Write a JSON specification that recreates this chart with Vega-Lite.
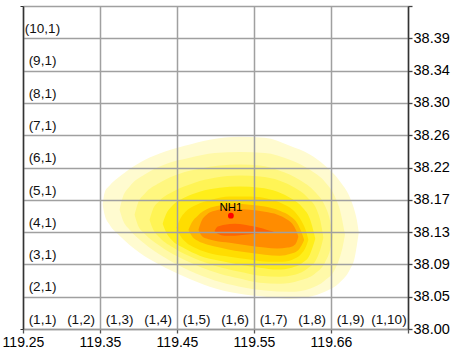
{
  "$schema": "https://vega.github.io/schema/vega-lite/v6.json",
  "width": 385,
  "height": 323,
  "autosize": {"type": "none"},
  "padding": {"left": 23, "top": 6, "right": 66, "bottom": 21},
  "background": "white",
  "config": {"view": {"stroke": null}, "font": "Liberation Sans"},
  "datasets": {
    "contours": [
      {"level":1,"c":2.07,"lo":3.85,"hi":3.87},{"level":1,"c":2.12,"lo":3.54,"hi":4.22},{"level":1,"c":2.25,"lo":3.23,"hi":4.44},{"level":1,"c":2.51,"lo":2.89,"hi":4.72},{"level":1,"c":3.03,"lo":2.36,"hi":5.15},{"level":1,"c":3.55,"lo":1.99,"hi":5.43},{"level":1,"c":4.20,"lo":1.62,"hi":5.67},{"level":1,"c":4.85,"lo":1.31,"hi":5.86},{"level":1,"c":5.63,"lo":1.09,"hi":5.95},{"level":1,"c":6.28,"lo":1.00,"hi":5.92},{"level":1,"c":6.93,"lo":0.94,"hi":5.67},{"level":1,"c":7.45,"lo":1.00,"hi":5.40},{"level":1,"c":7.84,"lo":1.15,"hi":5.06},{"level":1,"c":8.22,"lo":1.43,"hi":4.59},{"level":1,"c":8.49,"lo":1.84,"hi":4.07},{"level":1,"c":8.62,"lo":2.24,"hi":3.63},{"level":1,"c":8.67,"lo":2.58,"hi":3.38},{"level":1,"c":8.72,"lo":2.98,"hi":3.00},
      {"level":2,"c":2.51,"lo":3.69,"hi":3.71},{"level":2,"c":2.59,"lo":3.38,"hi":4.07},{"level":2,"c":2.77,"lo":3.07,"hi":4.41},{"level":2,"c":3.16,"lo":2.64,"hi":4.78},{"level":2,"c":3.68,"lo":2.21,"hi":5.09},{"level":2,"c":4.33,"lo":1.80,"hi":5.30},{"level":2,"c":4.98,"lo":1.50,"hi":5.45},{"level":2,"c":5.63,"lo":1.31,"hi":5.48},{"level":2,"c":6.28,"lo":1.19,"hi":5.45},{"level":2,"c":6.93,"lo":1.15,"hi":5.24},{"level":2,"c":7.45,"lo":1.25,"hi":4.93},{"level":2,"c":7.84,"lo":1.50,"hi":4.56},{"level":2,"c":8.10,"lo":1.84,"hi":4.10},{"level":2,"c":8.25,"lo":2.30,"hi":3.60},{"level":2,"c":8.30,"lo":2.52,"hi":3.32},{"level":2,"c":8.36,"lo":2.90,"hi":2.94},
      {"level":3,"c":2.90,"lo":3.53,"hi":3.55},{"level":3,"c":2.98,"lo":3.23,"hi":3.88},{"level":3,"c":3.16,"lo":2.95,"hi":4.19},{"level":3,"c":3.55,"lo":2.58,"hi":4.53},{"level":3,"c":4.07,"lo":2.21,"hi":4.81},{"level":3,"c":4.59,"lo":1.93,"hi":4.96},{"level":3,"c":5.11,"lo":1.71,"hi":5.06},{"level":3,"c":5.63,"lo":1.56,"hi":5.09},{"level":3,"c":6.15,"lo":1.43,"hi":5.06},{"level":3,"c":6.67,"lo":1.40,"hi":4.90},{"level":3,"c":7.18,"lo":1.50,"hi":4.62},{"level":3,"c":7.58,"lo":1.71,"hi":4.25},{"level":3,"c":7.84,"lo":2.05,"hi":3.82},{"level":3,"c":7.97,"lo":2.42,"hi":3.38},{"level":3,"c":8.05,"lo":2.85,"hi":2.87},
      {"level":4,"c":3.29,"lo":3.37,"hi":3.39},{"level":4,"c":3.37,"lo":3.11,"hi":3.69},{"level":4,"c":3.55,"lo":2.83,"hi":3.97},{"level":4,"c":3.94,"lo":2.49,"hi":4.28},{"level":4,"c":4.46,"lo":2.18,"hi":4.53},{"level":4,"c":4.98,"lo":1.96,"hi":4.68},{"level":4,"c":5.63,"lo":1.77,"hi":4.75},{"level":4,"c":6.15,"lo":1.65,"hi":4.72},{"level":4,"c":6.67,"lo":1.62,"hi":4.59},{"level":4,"c":7.06,"lo":1.68,"hi":4.37},{"level":4,"c":7.39,"lo":1.87,"hi":4.07},{"level":4,"c":7.63,"lo":2.18,"hi":3.69},{"level":4,"c":7.73,"lo":2.49,"hi":3.32},{"level":4,"c":7.80,"lo":2.82,"hi":2.84},
      {"level":5,"c":3.63,"lo":3.25,"hi":3.27},{"level":5,"c":3.71,"lo":3.01,"hi":3.54},{"level":5,"c":3.86,"lo":2.76,"hi":3.79},{"level":5,"c":4.20,"lo":2.49,"hi":4.07},{"level":5,"c":4.59,"lo":2.27,"hi":4.25},{"level":5,"c":5.11,"lo":2.11,"hi":4.37},{"level":5,"c":5.63,"lo":1.99,"hi":4.41},{"level":5,"c":6.15,"lo":1.90,"hi":4.37},{"level":5,"c":6.61,"lo":1.84,"hi":4.25},{"level":5,"c":6.98,"lo":1.90,"hi":4.03},{"level":5,"c":7.26,"lo":2.05,"hi":3.76},{"level":5,"c":7.45,"lo":2.30,"hi":3.41},{"level":5,"c":7.52,"lo":2.52,"hi":3.14},{"level":5,"c":7.59,"lo":2.79,"hi":2.81},
      {"level":6,"c":3.99,"lo":3.13,"hi":3.15},{"level":6,"c":4.07,"lo":2.92,"hi":3.38},{"level":6,"c":4.22,"lo":2.70,"hi":3.63},{"level":6,"c":4.51,"lo":2.49,"hi":3.85},{"level":6,"c":4.90,"lo":2.33,"hi":4.00},{"level":6,"c":5.37,"lo":2.24,"hi":4.10},{"level":6,"c":5.89,"lo":2.15,"hi":4.10},{"level":6,"c":6.36,"lo":2.08,"hi":4.03},{"level":6,"c":6.74,"lo":2.08,"hi":3.88},{"level":6,"c":7.06,"lo":2.18,"hi":3.63},{"level":6,"c":7.23,"lo":2.33,"hi":3.35},{"level":6,"c":7.34,"lo":2.52,"hi":3.07},{"level":6,"c":7.41,"lo":2.75,"hi":2.77},
      {"level":7,"c":4.30,"lo":3.06,"hi":3.08},{"level":7,"c":4.38,"lo":2.89,"hi":3.29},{"level":7,"c":4.54,"lo":2.73,"hi":3.51},{"level":7,"c":4.80,"lo":2.61,"hi":3.72},{"level":7,"c":5.11,"lo":2.52,"hi":3.82},{"level":7,"c":5.50,"lo":2.42,"hi":3.88},{"level":7,"c":5.89,"lo":2.36,"hi":3.85},{"level":7,"c":6.28,"lo":2.30,"hi":3.79},{"level":7,"c":6.67,"lo":2.27,"hi":3.66},{"level":7,"c":6.95,"lo":2.33,"hi":3.48},{"level":7,"c":7.13,"lo":2.42,"hi":3.26},{"level":7,"c":7.23,"lo":2.58,"hi":3.01},{"level":7,"c":7.30,"lo":2.75,"hi":2.77},
      {"level":8,"c":4.56,"lo":3.06,"hi":3.08},{"level":8,"c":4.64,"lo":2.89,"hi":3.35},{"level":8,"c":4.77,"lo":2.80,"hi":3.54},{"level":8,"c":4.98,"lo":2.73,"hi":3.66},{"level":8,"c":5.37,"lo":2.67,"hi":3.72},{"level":8,"c":5.89,"lo":2.58,"hi":3.69},{"level":8,"c":6.28,"lo":2.52,"hi":3.63},{"level":8,"c":6.61,"lo":2.49,"hi":3.54},{"level":8,"c":6.87,"lo":2.52,"hi":3.38},{"level":8,"c":7.03,"lo":2.58,"hi":3.20},{"level":8,"c":7.11,"lo":2.70,"hi":3.01},{"level":8,"c":7.15,"lo":2.85,"hi":2.87},
      {"level":9,"c":4.98,"lo":3.03,"hi":3.05},{"level":9,"c":5.06,"lo":2.95,"hi":3.17},{"level":9,"c":5.24,"lo":2.89,"hi":3.23},{"level":9,"c":5.50,"lo":2.89,"hi":3.26},{"level":9,"c":5.76,"lo":2.92,"hi":3.23},{"level":9,"c":6.02,"lo":2.95,"hi":3.17},{"level":9,"c":6.23,"lo":2.98,"hi":3.11},{"level":9,"c":6.41,"lo":3.00,"hi":3.04},{"level":9,"c":6.51,"lo":3.01,"hi":3.02}
    ],
    "cells": [
      {"i":1,"j":1,"label":"(1,1)"},{"i":2,"j":1,"label":"(2,1)"},{"i":3,"j":1,"label":"(3,1)"},{"i":4,"j":1,"label":"(4,1)"},{"i":5,"j":1,"label":"(5,1)"},{"i":6,"j":1,"label":"(6,1)"},{"i":7,"j":1,"label":"(7,1)"},{"i":8,"j":1,"label":"(8,1)"},{"i":9,"j":1,"label":"(9,1)"},{"i":10,"j":1,"label":"(10,1)"},
      {"i":1,"j":2,"label":"(1,2)"},{"i":1,"j":3,"label":"(1,3)"},{"i":1,"j":4,"label":"(1,4)"},{"i":1,"j":5,"label":"(1,5)"},{"i":1,"j":6,"label":"(1,6)"},{"i":1,"j":7,"label":"(1,7)"},{"i":1,"j":8,"label":"(1,8)"},{"i":1,"j":9,"label":"(1,9)"},{"i":1,"j":10,"label":"(1,10)"}
    ],
    "stations": [
      {"name":"NH1","c":5.40,"r":3.51}
    ]
  },
  "layer": [
    {
      "data": {"name": "contours"},
      "mark": {"type": "area", "interpolate": "monotone", "opacity": 1},
      "encoding": {
        "x": {"field": "c", "type": "quantitative", "scale": {"domain": [0, 10], "nice": false, "zero": false},
          "axis": {"orient": "bottom", "values": [0,1,2,3,4,5,6,7,8,9,10], "grid": true, "gridColor": "#a0a0a0", "gridWidth": 1.5, "gridOpacity": 1,
            "domain": true, "domainColor": "#999999", "domainWidth": 1.5, "ticks": true, "tickSize": 4, "tickColor": "#555555", "tickWidth": 1.3,
            "labelExpr": "datum.value==0?'119.25':datum.value==2?'119.35':datum.value==4?'119.45':datum.value==6?'119.55':datum.value==8?'119.66':''",
            "labelFontSize": 14, "labelColor": "#000000", "labelPadding": 2, "labelFont": "Liberation Sans", "labelFlush": false, "labelOverlap": false, "labelBound": false,
            "title": null, "zindex": 1}},
        "y": {"field": "lo", "type": "quantitative", "stack": null, "scale": {"domain": [0, 10], "nice": false, "zero": false},
          "axis": {"orient": "left", "values": [0, 10], "grid": false, "domain": true, "domainColor": "#333333", "domainWidth": 1.5, "ticks": true, "tickSize": 3, "tickColor": "#333333", "labels": false, "title": null, "zindex": 1}},
        "y2": {"field": "hi"},
        "color": {"field": "level", "type": "ordinal", "legend": null,
          "scale": {"domain": [1,2,3,4,5,6,7,8,9], "range": ["#fffbd0","#fff9a8","#fff77f","#fff455","#ffee1a","#ffdd00","#ffb600","#ff8c00","#ff6400"]}}
      }
    },
    {
      "data": {"name": "cells"},
      "mark": {"type": "text", "dx": -19, "dy": 23, "fontSize": 13.5, "font": "Liberation Sans", "color": "#111111", "baseline": "middle", "align": "center"},
      "encoding": {
        "x": {"field": "j", "type": "quantitative", "scale": {"domain": [0, 10], "nice": false, "zero": false}},
        "y": {"field": "i", "type": "quantitative", "scale": {"domain": [0, 10], "nice": false, "zero": false},
          "axis": {"orient": "right", "values": [0,1,2,3,4,5,6,7,8,9,10], "grid": true, "gridColor": "#a0a0a0", "gridWidth": 1.5, "gridOpacity": 1,
            "domain": true, "domainColor": "#333333", "domainWidth": 1.5, "ticks": true, "tickSize": 4, "tickColor": "#444444", "tickWidth": 1.3,
            "labelExpr": "['38.00','38.05','38.09','38.13','38.17','38.22','38.26','38.30','38.34','38.39',''][datum.value]",
            "labelFontSize": 14.5, "labelColor": "#000000", "labelPadding": 1, "labelFont": "Liberation Sans", "labelOverlap": false, "labelBound": false, "labelFlush": false,
            "title": null, "zindex": 1}},
        "text": {"field": "label"}
      }
    },
    {
      "data": {"name": "stations"},
      "mark": {"type": "circle", "color": "#ff0000", "size": 34, "opacity": 1},
      "encoding": {
        "x": {"field": "c", "type": "quantitative", "scale": {"domain": [0, 10], "nice": false, "zero": false}},
        "y": {"field": "r", "type": "quantitative", "scale": {"domain": [0, 10], "nice": false, "zero": false}, "axis": null}
      }
    },
    {
      "data": {"name": "stations"},
      "mark": {"type": "text", "dy": -8, "fontSize": 11.5, "font": "Liberation Sans", "color": "#000000", "baseline": "middle", "align": "center"},
      "encoding": {
        "x": {"field": "c", "type": "quantitative", "scale": {"domain": [0, 10], "nice": false, "zero": false}},
        "y": {"field": "r", "type": "quantitative", "scale": {"domain": [0, 10], "nice": false, "zero": false}, "axis": null},
        "text": {"field": "name"}
      }
    }
  ],
  "resolve": {"axis": {"y": "independent"}}
}
